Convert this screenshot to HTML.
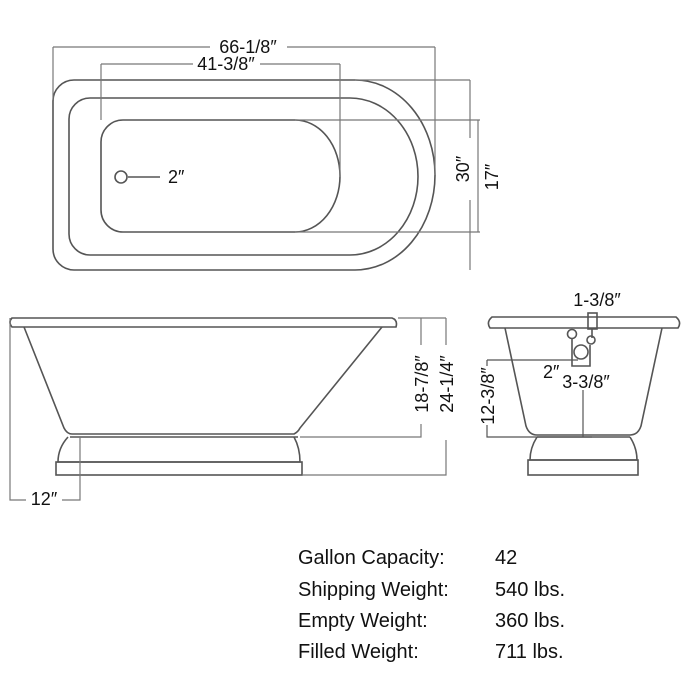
<!DOCTYPE html>
<html><head><meta charset="utf-8"><style>
html,body{margin:0;padding:0;background:#fff;}
svg{display:block}
text{font-family:"Liberation Sans",sans-serif;fill:#111;}
</style></head><body>
<svg width="700" height="700" viewBox="0 0 700 700" xmlns="http://www.w3.org/2000/svg">
<g fill="none" stroke="#555" stroke-width="1.6">
<path d="M74,80 H355 A80,95 0 0 1 355,270 H74 A21,21 0 0 1 53,249 V101 A21,21 0 0 1 74,80 Z"/>
<path d="M90,98 H350 A68,78.5 0 0 1 350,255 H90 A21,21 0 0 1 69,234 V119 A21,21 0 0 1 90,98 Z"/>
<path d="M123,120 H295 A45,56 0 0 1 295,232 H123 A22,22 0 0 1 101,210 V142 A22,22 0 0 1 123,120 Z"/>
<circle cx="121" cy="177" r="6"/>
<line x1="128" y1="177" x2="160" y2="177"/>
<g stroke="#777" stroke-width="1.2">
<line x1="53" y1="47" x2="210" y2="47"/><line x1="287" y1="47" x2="435" y2="47"/>
<line x1="53" y1="47" x2="53" y2="100"/><line x1="435" y1="47" x2="435" y2="175"/>
<line x1="101" y1="64" x2="193" y2="64"/><line x1="260" y1="64" x2="340" y2="64"/>
<line x1="101" y1="64" x2="101" y2="120"/><line x1="340" y1="64" x2="340" y2="177"/>
<line x1="355" y1="80" x2="470" y2="80"/><line x1="295" y1="120" x2="480" y2="120"/><line x1="295" y1="232" x2="480" y2="232"/>
<line x1="470" y1="80" x2="470" y2="138"/><line x1="470" y1="200" x2="470" y2="270"/>
<line x1="478" y1="120" x2="478" y2="232"/>
</g>
<path d="M12,318 H392 Q398,320 396,327 H12 Q8,322 12,318 Z"/>
<path d="M24,327 L64,428 Q67,434 72,434 H294 Q298,432 300,428 L382,327"/>
<line x1="70" y1="437" x2="298" y2="437"/>
<path d="M68,437 Q58,448 58,462 H300 Q300,448 294,437"/>
<rect x="56" y="462" width="246" height="13"/>
<g stroke="#777" stroke-width="1.2">
<path d="M10,318 V500 H26 M62,500 H80 V437"/>
<path d="M398,318 H446 M300,437 H421 V424 M421,318 V345"/>
<path d="M446,318 V345 M446,440 V475 H302"/>
</g>
<path d="M492,317 H676 Q682,322 678,328 H490 Q486,322 492,317 Z"/>
<path d="M505,328 L526,426 Q529,435 537,435 H630 Q638,435 641,426 L662,328"/>
<line x1="537" y1="437" x2="630" y2="437"/>
<path d="M537,437 Q530,448 530,460 H637 Q637,448 630,437"/>
<rect x="528" y="460" width="110" height="15"/>
<rect x="588" y="313" width="9" height="16"/>
<line x1="592" y1="329" x2="592" y2="338"/>
<circle cx="591" cy="340" r="4"/>
<circle cx="572" cy="334" r="4.5"/>
<path d="M572,339 V366 H590 V345"/>
<circle cx="581" cy="352" r="7"/>
<g stroke="#555" stroke-width="1.2">
<path d="M487,360 H578"/>
<path d="M487,360 V366 M487,425 V437 H592"/>
<path d="M583,390 V437"/>
</g>
</g>
<g font-size="18">
<text x="248" y="53" text-anchor="middle">66-1/8″</text>
<text x="226" y="70" text-anchor="middle">41-3/8″</text>
<text x="168" y="183">2″</text>
<text transform="translate(469,169) rotate(-90)" text-anchor="middle">30″</text>
<text transform="translate(498,177) rotate(-90)" text-anchor="middle">17″</text>
<text x="44" y="505" text-anchor="middle">12″</text>
<text transform="translate(428,384) rotate(-90)" text-anchor="middle">18-7/8″</text>
<text transform="translate(453,384) rotate(-90)" text-anchor="middle">24-1/4″</text>
<text transform="translate(494,396) rotate(-90)" text-anchor="middle">12-3/8″</text>
<text x="597" y="306" text-anchor="middle">1-3/8″</text>
<text x="543" y="378">2″</text>
<text x="586" y="388" text-anchor="middle">3-3/8″</text>
</g>
<g font-size="20">
<text x="298" y="564">Gallon Capacity:</text><text x="495" y="564">42</text>
<text x="298" y="596">Shipping Weight:</text><text x="495" y="596">540 lbs.</text>
<text x="298" y="627">Empty Weight:</text><text x="495" y="627">360 lbs.</text>
<text x="298" y="658">Filled Weight:</text><text x="495" y="658">711 lbs.</text>
</g>
</svg>
</body></html>
